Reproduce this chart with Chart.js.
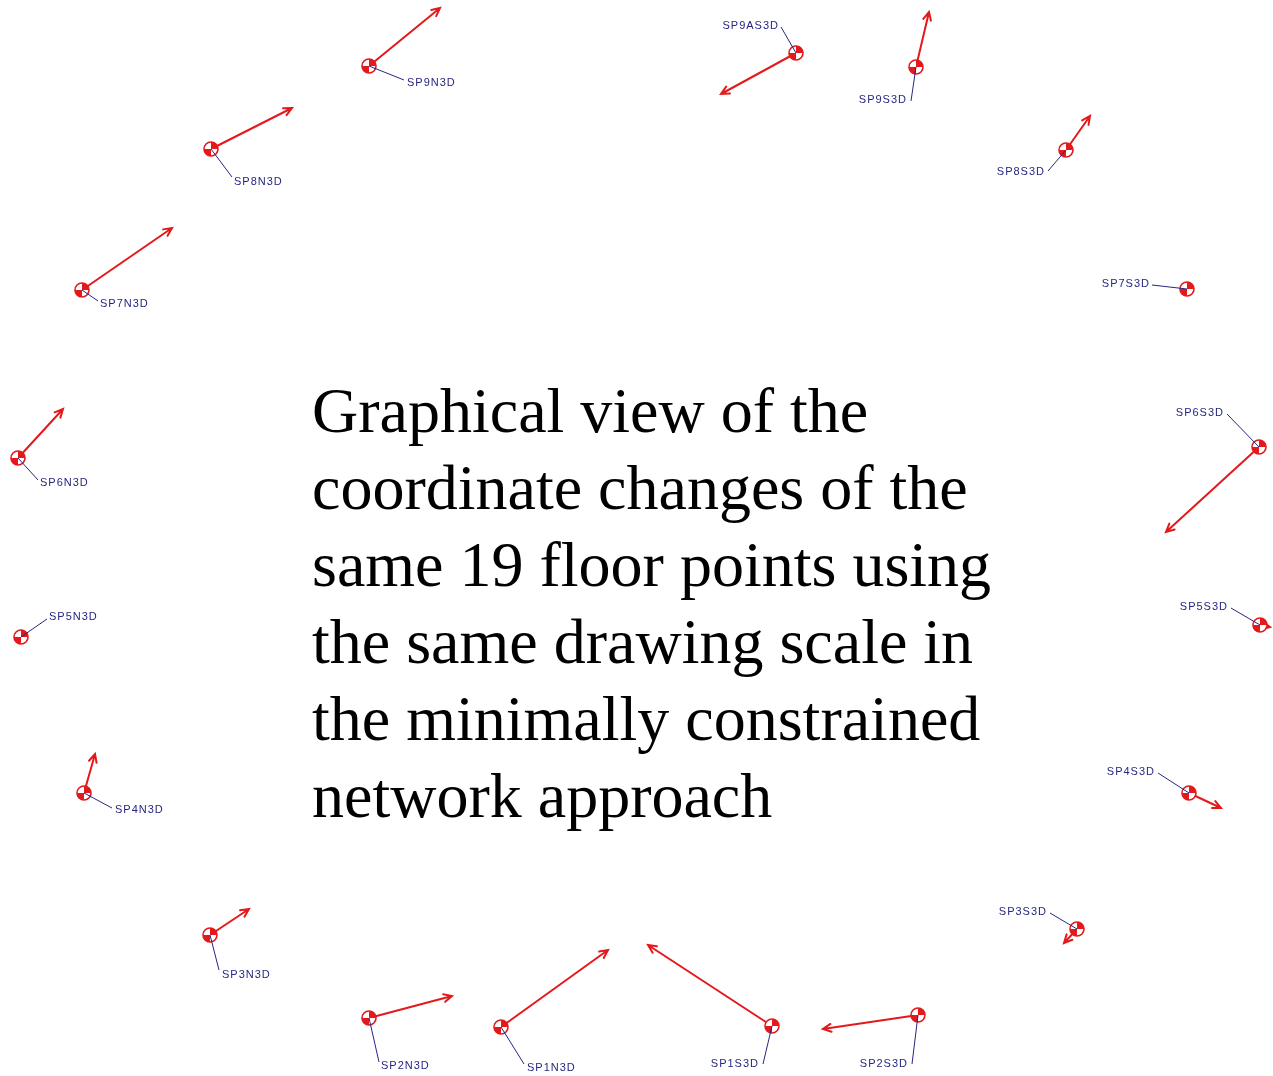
<!DOCTYPE html>
<html>
<head>
<meta charset="utf-8">
<script src="https://cdn.jsdelivr.net/npm/chart.js@4"></script>
<style>
  body { margin: 0; background: #fff; }
  #wrap { position: relative; width: 1273px; height: 1076px; }
  #caption {
    position: absolute; left: 312px; top: 372px;
    font-family: "Liberation Serif", "Times New Roman", serif;
    font-size: 64px; line-height: 77px; color: #000;
  }
</style>
</head>
<body>
<div id="wrap">
  <canvas id="chartMove"></canvas>
  <div id="caption">Graphical view of the<br>coordinate changes of the<br>same 19 floor points using<br>the same drawing scale in<br>the minimally constrained<br>network approach</div>
</div>
<script>
// floor points
const pointNames = ["SP9N3D","SP8N3D","SP7N3D","SP6N3D","SP5N3D","SP4N3D","SP3N3D","SP2N3D","SP1N3D",
  "SP1S3D","SP2S3D","SP3S3D","SP4S3D","SP5S3D","SP6S3D","SP7S3D","SP8S3D","SP9S3D","SP9AS3D"];
const pointX = [36.9, 21.1, 8.2, 1.8, 2.1, 8.4, 21.0, 36.9, 50.1,
  77.2, 91.8, 107.7, 118.9, 126.0, 125.9, 118.7, 106.6, 91.6, 79.6];
const pointY = [101.0, 92.7, 78.6, 61.8, 43.9, 28.3, 14.1, 5.8, 4.9,
  5.0, 6.1, 14.7, 28.3, 45.1, 62.9, 78.7, 92.6, 100.9, 102.3];
// coordinate changes (drawing scale)
const shiftX = [7.1, 8.1, 9.0, 4.5, 0.0, 1.1, 3.9, 8.3, 10.7,
  -12.4, -9.5, -1.3, 3.2, 1.0, -9.3, 0.0, 2.4, 1.3, -7.5];
const shiftY = [5.8, 4.1, 6.2, 4.9, 0.0, 3.9, 2.6, 2.2, 7.7,
  8.1, -1.4, -1.4, -1.5, -0.2, -8.5, 0.0, 3.4, 5.5, -4.1];

// label placement in pixels: [textDx, textDy, align, leaderDx, leaderDy]
const labelPlace = [
  [38,17,'left',35,14],[23,33,'left',21,28],[18,14,'left',16,11],[22,25,'left',20,22],
  [28,-20,'left',26,-18],[31,17,'left',28,15],[12,40,'left',9,35],[12,48,'left',10,44],
  [26,41,'left',23,37],[-13,38,'right',-9,38],[-10,49,'right',-6,49],[-30,-17,'right',-27,-16],
  [-34,-21,'right',-31,-20],[-32,-18,'right',-29,-17],[-35,-34,'right',-32,-33],
  [-37,-5,'right',-35,-4],[-21,22,'right',-18,21],[-9,33,'right',-5,34],[-17,-27,'right',-15,-26]
];

const RED = '#e3191c';
const NAVY = '#262680';

// marker symbol
const marker = document.createElement('canvas');
marker.width = 20; marker.height = 20;
(function(){
  const c = marker.getContext('2d');
  c.fillStyle = '#fff';
  c.beginPath(); c.arc(10,10,7,0,Math.PI*2); c.fill();
  c.fillStyle = RED;
  c.beginPath(); c.moveTo(10,10); c.arc(10,10,7,-Math.PI/2,0); c.closePath(); c.fill();
  c.beginPath(); c.moveTo(10,10); c.arc(10,10,7,Math.PI/2,Math.PI); c.closePath(); c.fill();
  c.strokeStyle = RED; c.lineWidth = 1.6;
  c.beginPath(); c.arc(10,10,7,0,Math.PI*2); c.stroke();
})();

const pts = pointX.map((x,i) => ({x: x, y: pointY[i]}));

const arrowPlugin = {
  id: 'arrows',
  beforeDatasetsDraw(chart){
    const ctx = chart.ctx, xs = chart.scales.x, ys = chart.scales.y;
    ctx.save();
    ctx.strokeStyle = RED; ctx.lineWidth = 2; ctx.lineCap = 'round';
    pts.forEach((p,i) => {
      if (shiftX[i] === 0 && shiftY[i] === 0) return;
      const x0 = xs.getPixelForValue(p.x), y0 = ys.getPixelForValue(p.y);
      const x1 = xs.getPixelForValue(p.x + shiftX[i]), y1 = ys.getPixelForValue(p.y + shiftY[i]);
      const a = Math.atan2(y1-y0, x1-x0), h = 9;
      ctx.beginPath();
      ctx.moveTo(x0,y0); ctx.lineTo(x1,y1);
      ctx.moveTo(x1 - h*Math.cos(a-0.45), y1 - h*Math.sin(a-0.45));
      ctx.lineTo(x1,y1);
      ctx.lineTo(x1 - h*Math.cos(a+0.45), y1 - h*Math.sin(a+0.45));
      ctx.stroke();
    });
    ctx.restore();
  },
  afterDatasetsDraw(chart){
    const ctx = chart.ctx, xs = chart.scales.x, ys = chart.scales.y;
    ctx.save();
    ctx.strokeStyle = NAVY; ctx.lineWidth = 1;
    ctx.fillStyle = NAVY;
    ctx.font = '11px "Liberation Sans", Arial, sans-serif';
    ctx.letterSpacing = '1px';
    ctx.textBaseline = 'middle';
    pts.forEach((p,i) => {
      const x0 = xs.getPixelForValue(p.x), y0 = ys.getPixelForValue(p.y);
      const [tdx, tdy, al, ldx, ldy] = labelPlace[i];
      ctx.beginPath(); ctx.moveTo(x0,y0); ctx.lineTo(x0+ldx, y0+ldy); ctx.stroke();
      ctx.textAlign = al;
      ctx.fillText(pointNames[i], x0+tdx, y0+tdy);
    });
    ctx.restore();
  }
};

new Chart(document.getElementById('chartMove'), {
  type: 'scatter',
  data: {
    datasets: [{
      label: 'Floor points',
      data: pts,
      pointStyle: marker,
      pointRadius: 8,
      pointHoverRadius: 8,
      clip: false
    }]
  },
  options: {
    responsive: true,
    maintainAspectRatio: false,
    animation: false,
    layout: { padding: 0, autoPadding: false },
    plugins: { legend: { display: false }, tooltip: { enabled: false } },
    scales: {
      x: { type: 'linear', min: 0, max: 127.3, display: false },
      y: { type: 'linear', min: 0, max: 107.6, display: false }
    }
  },
  plugins: [arrowPlugin]
});
</script>
</body>
</html>
